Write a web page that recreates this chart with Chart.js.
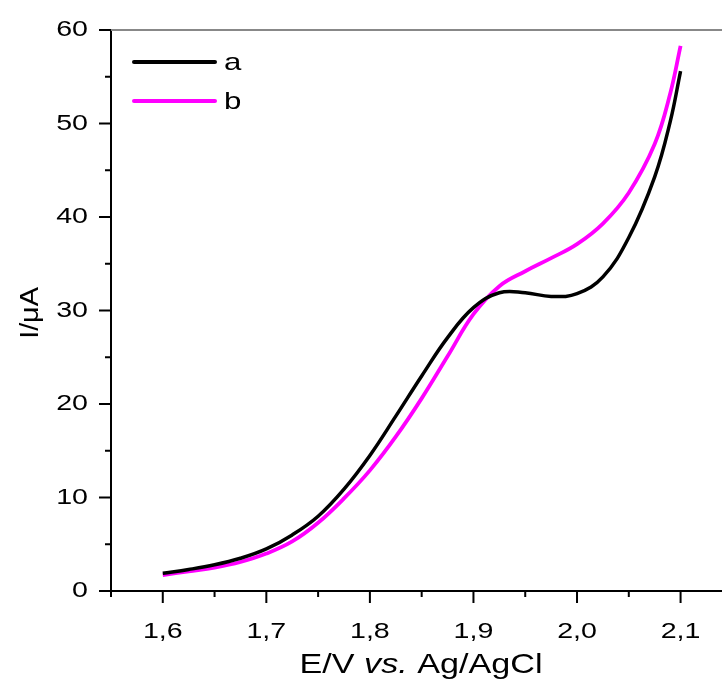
<!DOCTYPE html>
<html>
<head>
<meta charset="utf-8">
<script src="https://cdn.jsdelivr.net/npm/chart.js@4.4.0/dist/chart.umd.min.js"></script>
<style>
  html, body { margin: 0; padding: 0; background: #fff; }
  #wrap { width: 722px; height: 684px; }
</style>
</head>
<body>
<div id="wrap"><canvas id="myChart"></canvas></div>
<script>
// potential (V vs Ag/AgCl)
const potential = [1.60, 1.625, 1.65, 1.675, 1.70, 1.725, 1.75, 1.775, 1.80, 1.825, 1.85, 1.875,
                   1.90, 1.925, 1.95, 1.975, 2.00, 2.025, 2.05, 2.075, 2.09, 2.10];
// current (uA)
const curveA = [1.9, 2.3, 2.8, 3.5, 4.5, 6.0, 8.0, 10.9, 14.5, 18.7, 23.0, 27.1,
                30.3, 31.9, 31.9, 31.5, 31.8, 33.6, 37.8, 44.3, 50.2, 55.6];
const curveB = [1.7, 2.1, 2.5, 3.1, 4.0, 5.3, 7.3, 9.9, 12.9, 16.5, 20.6, 25.1,
                29.6, 32.6, 34.2, 35.6, 37.1, 39.3, 42.6, 47.8, 53.2, 58.3];
const seriesNames = ['a', 'b'];

const xMajor = [1.6, 1.7, 1.8, 1.9, 2.0, 2.1];
const xMinor = [1.55, 1.65, 1.75, 1.85, 1.95, 2.05];
const yMajor = [0, 10, 20, 30, 40, 50, 60];
const yMinor = [5, 15, 25, 35, 45, 55];

const SANS = '"Liberation Sans", Arial, sans-serif';

function stretchText(ctx, s, x, y, align, font, sx) {
  ctx.save();
  ctx.font = font;
  const w = ctx.measureText(s).width * sx;
  const x0 = align === 'center' ? x - w / 2 : align === 'right' ? x - w : x;
  ctx.translate(x0, y);
  ctx.scale(sx, 1);
  ctx.textAlign = 'left';
  ctx.textBaseline = 'middle';
  ctx.fillStyle = '#000';
  ctx.fillText(s, 0, 0);
  ctx.restore();
  return w;
}

const decor = {
  id: 'decor',
  afterDraw(chart) {
    const ctx = chart.ctx;
    const xs = chart.scales.x, ys = chart.scales.y;
    const a = chart.chartArea;
    ctx.save();
    // top frame line
    ctx.strokeStyle = '#888';
    ctx.lineWidth = 2;
    ctx.beginPath();
    ctx.moveTo(a.left, a.top);
    ctx.lineTo(a.right, a.top);
    ctx.stroke();

    // tick marks
    ctx.strokeStyle = '#000';
    ctx.lineWidth = 2;
    ctx.beginPath();
    yMajor.forEach(v => { const p = ys.getPixelForValue(v); ctx.moveTo(a.left - 12, p); ctx.lineTo(a.left, p); });
    yMinor.forEach(v => { const p = ys.getPixelForValue(v); ctx.moveTo(a.left - 6, p); ctx.lineTo(a.left, p); });
    xMajor.forEach(v => { const p = xs.getPixelForValue(v); ctx.moveTo(p, a.bottom); ctx.lineTo(p, a.bottom + 12); });
    xMinor.forEach(v => { const p = xs.getPixelForValue(v); ctx.moveTo(p, a.bottom); ctx.lineTo(p, a.bottom + 6); });
    ctx.stroke();

    // tick labels
    const tickFont = '22px ' + SANS;
    yMajor.forEach(v => stretchText(ctx, String(v), a.left - 23, ys.getPixelForValue(v), 'right', tickFont, 1.3));
    xMajor.forEach(v => stretchText(ctx, v.toFixed(1).replace('.', ','), xs.getPixelForValue(v), a.bottom + 41, 'center', tickFont, 1.3));

    // x title with italic "vs."
    const tf = '28px ' + SANS, tfi = 'italic 28px ' + SANS, sx = 1.22;
    const parts = [['E/V ', tf], ['vs.', tfi], [' Ag/AgCl', tf]];
    let total = 0;
    parts.forEach(p => { ctx.font = p[1]; total += ctx.measureText(p[0]).width * sx; });
    let cx = 421 - total / 2;
    parts.forEach(p => { cx += stretchText(ctx, p[0], cx, 665, 'left', p[1], sx); });

    // y title
    ctx.save();
    ctx.translate(31, 313);
    ctx.rotate(-Math.PI / 2);
    stretchText(ctx, 'I/\u03bcA', 0, 0, 'center', '25px ' + SANS, 1.15);
    ctx.restore();

    // legend
    chart.data.datasets.forEach((ds, i) => {
      const ly = 62 + i * 39;
      ctx.strokeStyle = ds.borderColor;
      ctx.lineWidth = 4;
      ctx.lineCap = 'round';
      ctx.beginPath();
      ctx.moveTo(134, ly);
      ctx.lineTo(215, ly);
      ctx.stroke();
      stretchText(ctx, ds.label, 224, ly + 1, 'left', '24px ' + SANS, 1.3);
    });
    ctx.restore();
  }
};

const ctx = document.getElementById('myChart');

new Chart(ctx, {
  type: 'line',
  data: {
    labels: potential,
    datasets: [
      {
        label: seriesNames[0],
        data: potential.map((e, i) => ({ x: e, y: curveA[i] })),
        borderColor: '#000000',
        borderWidth: 3.5,
        pointRadius: 0,
        tension: 0.4
      },
      {
        label: seriesNames[1],
        data: potential.map((e, i) => ({ x: e, y: curveB[i] })),
        borderColor: '#ff00ff',
        borderWidth: 3.8,
        pointRadius: 0,
        tension: 0.4
      }
    ]
  },
  options: {
    responsive: true,
    maintainAspectRatio: false,
    animation: false,
    layout: { padding: { top: 30, right: 0, left: 0, bottom: 0 } },
    plugins: {
      legend: { display: false },
      tooltip: { enabled: false }
    },
    scales: {
      x: {
        type: 'linear',
        min: 1.55,
        max: 2.14,
        grid: { display: false },
        border: { display: true, color: '#000', width: 2 },
        ticks: { display: false },
        afterFit(scale) { scale.height = 93; }
      },
      y: {
        min: 0,
        max: 60,
        grid: { display: false },
        border: { display: true, color: '#000', width: 2 },
        ticks: { display: false },
        afterFit(scale) { scale.width = 111; }
      }
    }
  },
  plugins: [decor]
});
</script>
</body>
</html>
